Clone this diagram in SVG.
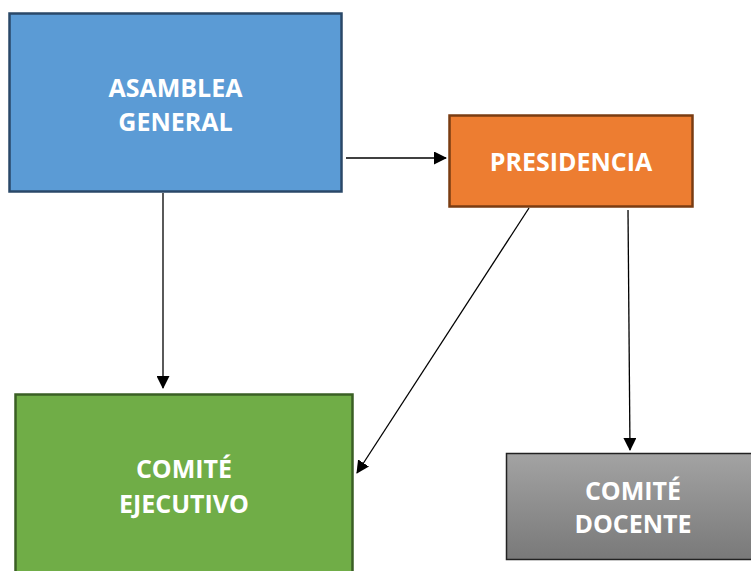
<svg xmlns="http://www.w3.org/2000/svg" width="751" height="571" viewBox="0 0 751 571">
<defs>
<marker id="ah" markerWidth="13" markerHeight="13" refX="12" refY="6.5" orient="auto" markerUnits="userSpaceOnUse" viewBox="0 0 13 13">
<path d="M0,0 L13,6.5 L0,13 z" fill="#000"/>
</marker>
<linearGradient id="gray" x1="0" y1="0" x2="0" y2="1">
<stop offset="0" stop-color="#a3a3a3"/>
<stop offset="1" stop-color="#797979"/>
</linearGradient>
<style>
.lbl{font-family:"Open Sans","Liberation Sans",sans-serif;font-weight:bold;font-size:25px;fill:#fff;text-anchor:middle}
.conn{stroke:#000;stroke-width:1.3;fill:none;marker-end:url(#ah)}
</style>
</defs>
<rect width="751" height="571" fill="#fff"/>
<g id="asamblea">
<rect x="9.5" y="13.5" width="332" height="178" fill="#5b9bd5" stroke="#2a4868" stroke-width="2.5"/>
<text class="lbl" x="175.5" y="97">ASAMBLEA</text>
<text class="lbl" x="175.5" y="131">GENERAL</text>
</g>
<g id="presidencia">
<rect x="449.5" y="115.5" width="243" height="91" fill="#ed7d31" stroke="#7a3c12" stroke-width="2.5"/>
<text class="lbl" x="571" y="171">PRESIDENCIA</text>
</g>
<g id="ejecutivo">
<rect x="15.5" y="394.5" width="337" height="190" fill="#70ad47" stroke="#3a5f24" stroke-width="2.5"/>
<text class="lbl" x="184" y="478">COMITÉ</text>
<text class="lbl" x="184" y="513">EJECUTIVO</text>
</g>
<g id="docente">
<rect x="506.5" y="453.5" width="254" height="106" fill="url(#gray)" stroke="#222" stroke-width="1.5"/>
<text class="lbl" x="633" y="500">COMITÉ</text>
<text class="lbl" x="633" y="533">DOCENTE</text>
</g>
<g id="connectors">
<line class="conn" x1="346" y1="158" x2="446" y2="158"/>
<line class="conn" x1="163" y1="193" x2="163" y2="388"/>
<line class="conn" x1="529" y1="208" x2="357" y2="473"/>
<line class="conn" x1="628" y1="210" x2="630" y2="450"/>
</g>
</svg>
